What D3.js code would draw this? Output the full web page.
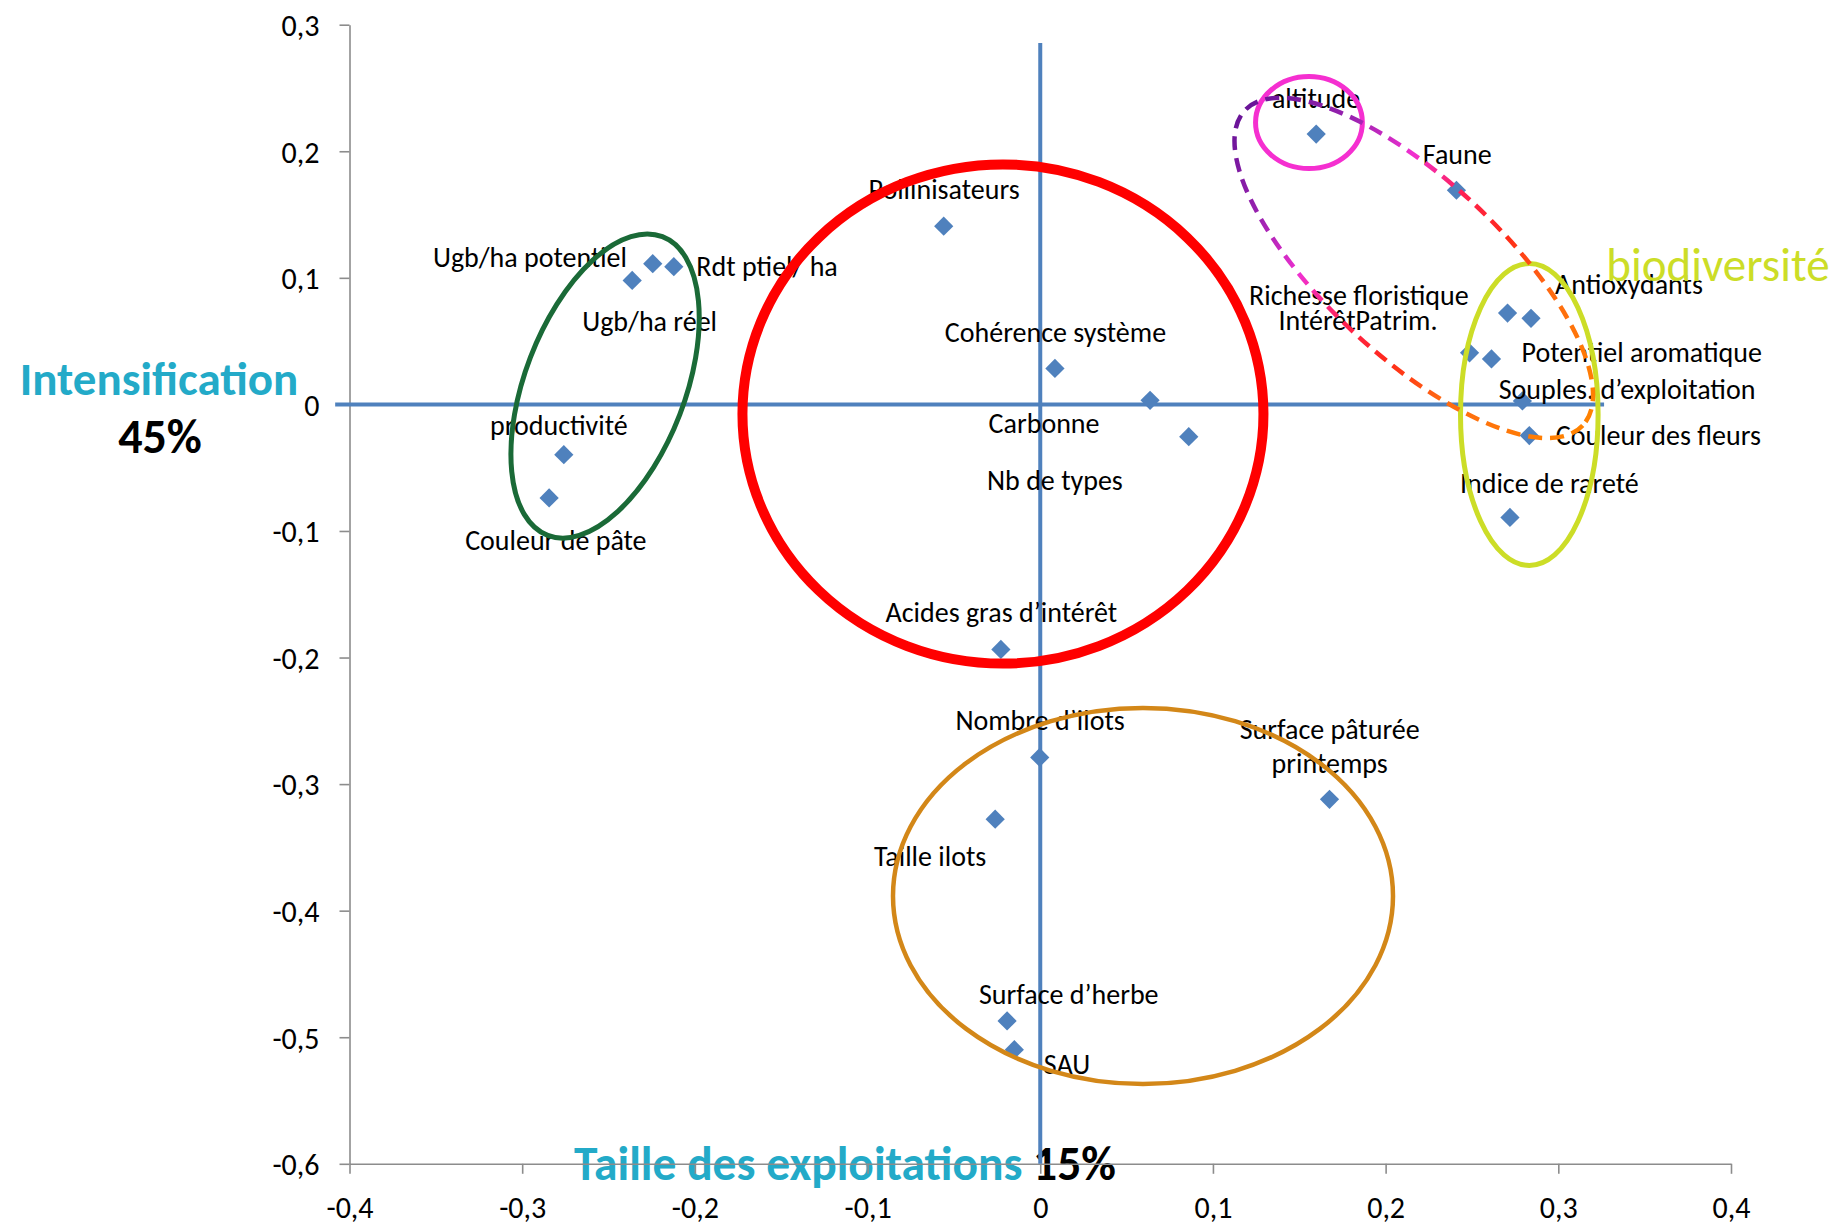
<!DOCTYPE html>
<html>
<head>
<meta charset="utf-8">
<script src="https://cdn.jsdelivr.net/npm/d3@7"></script>
<style>
  html, body { margin: 0; padding: 0; background: #ffffff; }
  svg { display: block; }
  text { font-family: Carlito, Calibri, Lato, "Open Sans", sans-serif; }
</style>
</head>
<body>
<svg id="chart" width="1845" height="1225"></svg>
<script>
// ---------------- DATA ----------------
const pointNames = [
  "Ugb/ha potentiel", "Rdt ptiel/ ha", "Ugb/ha réel", "productivité", "Couleur de pâte",
  "Pollinisateurs", "Cohérence système", "Carbonne", "Nb de types", "Acides gras d’intérêt",
  "Nombre d’ilots", "Taille ilots", "Surface pâturée\nprintemps", "Surface d’herbe", "SAU",
  "altitude", "Faune", "Richesse floristique", "IntérêtPatrim.", "Antioxydants",
  "Potentiel aromatique", "Souples. d’exploitation", "Couleur des fleurs", "Indice de rareté"
];
const xValues = [
  -0.2244, -0.2122, -0.2363, -0.2759, -0.2844,
  -0.0559, 0.0085, 0.0636, 0.0860, -0.0228,
  -0.0003, -0.0261, 0.1675, -0.0192, -0.0150,
  0.1598, 0.2410, 0.2706, 0.2486, 0.2842,
  0.2613, 0.2792, 0.2832, 0.2720
];
const yValues = [
  0.1112, 0.1088, 0.0979, -0.0397, -0.0739,
  0.1408, 0.0284, 0.0032, -0.0255, -0.1936,
  -0.2789, -0.3277, -0.3120, -0.4871, -0.5098,
  0.2136, 0.1692, 0.0722, 0.0408, 0.0680,
  0.0359, 0.0027, -0.0246, -0.0893
];
// label anchor (centre of the text) in data units
const labelX = [
  -0.2955, -0.1582, -0.2262, -0.2788, -0.2805,
  -0.0557, 0.0088, 0.0022, 0.0085, -0.0225,
  -0.0001, -0.0638, 0.1676, 0.0165, 0.0155,
  0.1597, 0.2415, 0.1845, 0.1840, 0.3409,
  0.3483, 0.3398, 0.3579, 0.2948
];
const labelY = [
  0.1165, 0.1093, 0.0659, -0.0161, -0.1068,
  0.1699, 0.0574, -0.0147, -0.0593, -0.1640,
  -0.2490, -0.3570, -0.2562, -0.4657, -0.5214,
  0.2424, 0.1980, 0.0867, 0.0670, 0.0951,
  0.0413, 0.0120, -0.0243, -0.0621
];

const xTickValues = [-0.4, -0.3, -0.2, -0.1, 0, 0.1, 0.2, 0.3, 0.4];
const xTickLabels = ["-0,4", "-0,3", "-0,2", "-0,1", "0", "0,1", "0,2", "0,3", "0,4"];
const yTickValues = [-0.6, -0.5, -0.4, -0.3, -0.2, -0.1, 0, 0.1, 0.2, 0.3];
const yTickLabels = ["-0,6", "-0,5", "-0,4", "-0,3", "-0,2", "-0,1", "0", "0,1", "0,2", "0,3"];

// group annotations: centre in data units
const groupNames = ["intensif", "central", "taille", "biodiv", "altitude", "faune"];
const groupCx = [-0.2520, -0.0216, 0.0595, 0.2832, 0.1556, 0.2163];
const groupCy = [0.0145, -0.0076, -0.3884, -0.0080, 0.2227, 0.1078];

// ---------------- CHART ----------------
const svg = d3.select("#chart");
svg.append("rect").attr("width", 1845).attr("height", 1225).attr("fill", "#ffffff");

const x = d3.scaleLinear().domain([-0.4, 0.4]).range([349.5, 1731]);
const y = d3.scaleLinear().domain([-0.6, 0.3]).range([1163.8, 24.7]);

const BLUE = "#4F81BD";
const TEAL = "#23AAC8";
const GREY = "#8C8C8C";

// Axis titles (behind the chart)
svg.append("text")
  .attr("x", 159).attr("y", 378).attr("dy", "0.36em")
  .attr("text-anchor", "middle")
  .attr("font-size", 47).attr("font-weight", "bold").attr("fill", TEAL)
  .text("Intensification");
svg.append("text")
  .attr("x", 160).attr("y", 436).attr("dy", "0.36em")
  .attr("text-anchor", "middle")
  .attr("font-size", 48).attr("font-weight", "bold").attr("fill", "#000")
  .text("45%");
const tt = svg.append("text")
  .attr("x", 845).attr("y", 1163).attr("dy", "0.36em")
  .attr("text-anchor", "middle")
  .attr("font-size", 47.5).attr("font-weight", "bold");
tt.append("tspan").attr("fill", TEAL).text("Taille des exploitations ");
tt.append("tspan").attr("fill", "#000").text("15%");

// Axes
const yAxis = d3.axisLeft(y).tickValues(yTickValues)
  .tickFormat((d, i) => yTickLabels[i]).tickSize(10).tickSizeOuter(0).tickPadding(20);
const gy = svg.append("g").attr("transform", `translate(${x(-0.4)},0)`).call(yAxis);

const xAxis = d3.axisBottom(x).tickValues(xTickValues)
  .tickFormat((d, i) => xTickLabels[i]).tickSize(10).tickSizeOuter(0).tickPadding(28);
const gx = svg.append("g").attr("transform", `translate(0,${y(-0.6)})`).call(xAxis);

[gx, gy].forEach(g => {
  g.select(".domain").attr("stroke", GREY).attr("stroke-width", 1.6);
  g.selectAll(".tick line").attr("stroke", GREY).attr("stroke-width", 1.6);
  g.selectAll(".tick text").attr("fill", "#000").attr("font-size", 30)
    .style("font-family", "Carlito, Calibri, Lato, 'Open Sans', sans-serif");
});
gy.selectAll(".tick text").attr("dy", "0.36em");
gx.selectAll(".tick text").attr("dy", "0.36em").attr("y", 43);

// Blue zero lines
svg.append("line")
  .attr("x1", x(-0.4083)).attr("x2", x(0.3265))
  .attr("y1", y(0)).attr("y2", y(0))
  .attr("stroke", BLUE).attr("stroke-width", 4);
svg.append("line")
  .attr("x1", x(0)).attr("x2", x(0))
  .attr("y1", y(0.2855)).attr("y2", y(-0.6))
  .attr("stroke", BLUE).attr("stroke-width", 4);

// Points
const pts = pointNames.map((n, i) => ({ name: n, x: xValues[i], y: yValues[i], lx: labelX[i], ly: labelY[i] }));
const sym = d3.symbol().type(d3.symbolSquare).size(185);
svg.append("g").selectAll("path").data(pts).join("path")
  .attr("d", sym)
  .attr("transform", d => `translate(${x(d.x)},${y(d.y)}) rotate(45)`)
  .attr("fill", BLUE);

// Labels
const lab = svg.append("g").selectAll("text").data(pts).join("text")
  .attr("x", d => x(d.lx)).attr("y", d => y(d.ly))
  .attr("text-anchor", "middle")
  .attr("font-size", 28).attr("fill", "#000");
lab.each(function (d) {
  const lines = d.name.split("\n");
  const t = d3.select(this);
  lines.forEach((ln, k) => {
    t.append("tspan").attr("x", x(d.lx))
      .attr("dy", k === 0 ? "0.36em" : "1.24em").text(ln);
  });
});

// Group ellipses (annotations)
const ell = svg.append("g");
function ellipse(i, rx, ry, rot, stroke, width, dash) {
  const g = ell.append("g")
    .attr("transform", `translate(${x(groupCx[i])},${y(groupCy[i])}) rotate(${rot})`);
  const e = g.append("ellipse").attr("rx", rx).attr("ry", ry)
    .attr("fill", "none").attr("stroke", stroke).attr("stroke-width", width);
  if (dash) e.attr("stroke-dasharray", dash);
  return g;
}
ellipse(0, 80, 160, 21, "#1A6A37", 5);
ellipse(1, 260.5, 249.6, 0, "#FF0000", 10);
ellipse(2, 250, 188, 0, "#D38718", 4.5);
ellipse(3, 68.8, 151, 0, "#CCDD27", 5);
ellipse(4, 53.4, 46, 0, "#F52FD0", 5);

// dashed gradient ellipse
const defs = svg.append("defs");
const grad = defs.append("linearGradient").attr("id", "dashGrad")
  .attr("gradientUnits", "userSpaceOnUse")
  .attr("x1", -231).attr("y1", 0).attr("x2", 231).attr("y2", 0);
[[0, "#6A1498"], [0.18, "#9A22B0"], [0.33, "#F030D0"], [0.47, "#FF2050"],
 [0.6, "#FF2A18"], [0.74, "#FF6A12"], [1, "#FF8200"]].forEach(s =>
  grad.append("stop").attr("offset", s[0]).attr("stop-color", s[1]));
ellipse(5, 231, 88, 43, "url(#dashGrad)", 4.5, "14,8");

// "biodiversité" label on top
svg.append("text")
  .attr("x", 1718).attr("y", 264).attr("dy", "0.36em")
  .attr("text-anchor", "middle")
  .attr("font-size", 47).attr("fill", "#CCDD27")
  .text("biodiversité");
</script>
</body>
</html>
